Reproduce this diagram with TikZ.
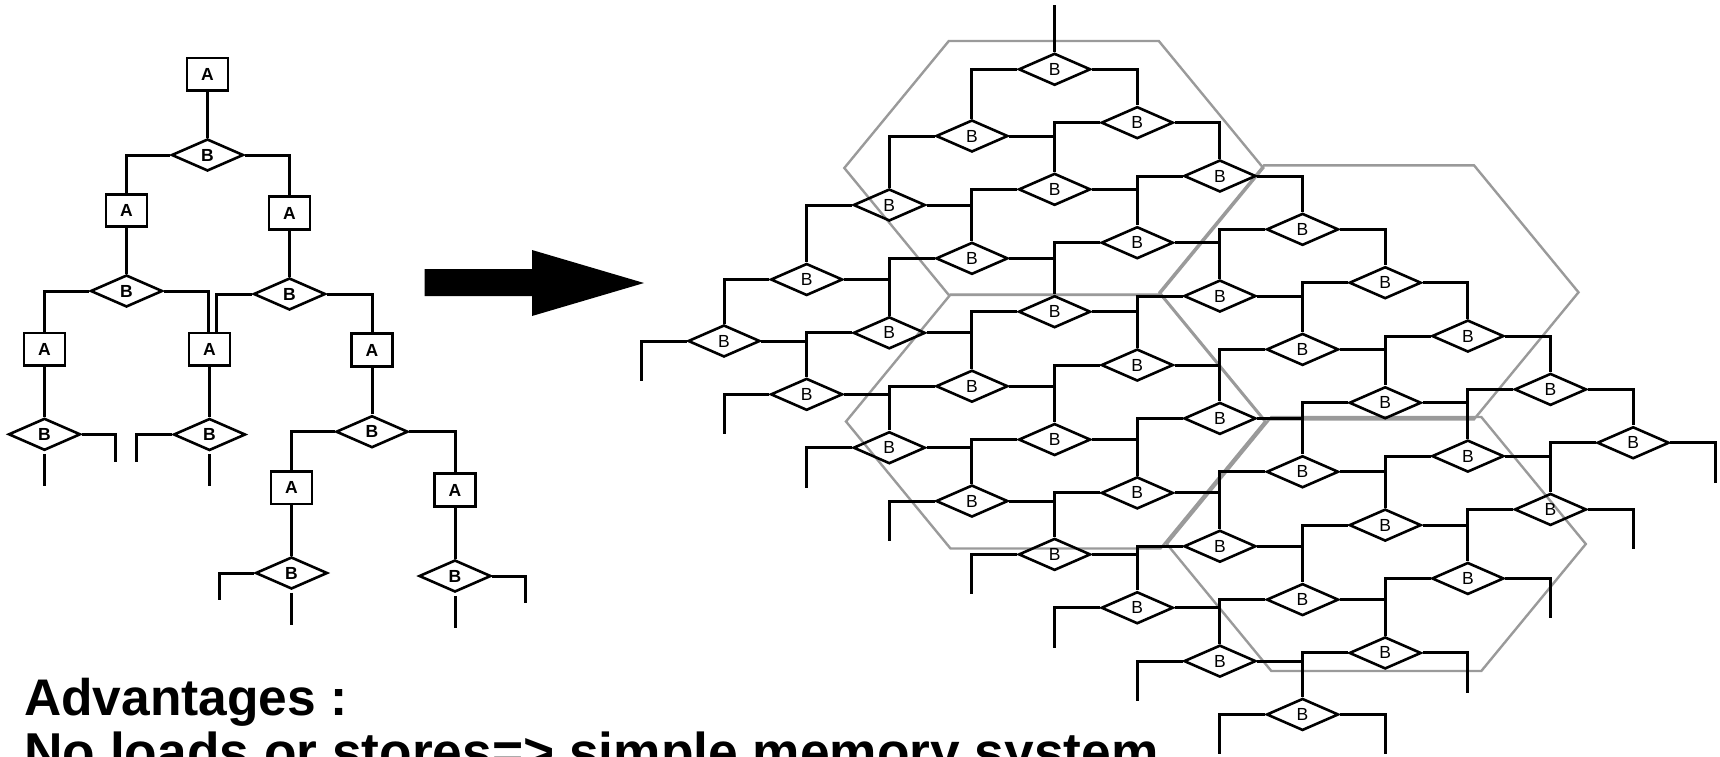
\documentclass[tikz,border=0pt]{standalone}
\usepackage{fontspec}
\setmainfont{Liberation Sans}
\usetikzlibrary{shapes.geometric,calc}
\definecolor{hexgray}{HTML}{9A9A9A}
\begin{document}
\begin{tikzpicture}[x=1pt,y=-1pt,
  conn/.style={line width=3pt,line join=miter},
  ldia/.style={diamond,draw,line width=2.6pt,minimum width=72pt,minimum height=32pt,inner sep=0pt,font=\fontsize{17.5}{17.5}\selectfont},
  tdia/.style={ldia,font=\bfseries\fontsize{17.5}{17.5}\selectfont},
  abox/.style={draw,line width=2.6pt,minimum width=41pt,minimum height=32.5pt,inner sep=0pt,font=\bfseries\fontsize{17.5}{17.5}\selectfont},
  hex/.style={draw=hexgray,line width=2.4pt,line join=miter},
  bigtext/.style={anchor=base west,inner sep=0pt}]
\useasboundingbox (0,0) rectangle (1720,756);
% ---------- hexagons ----------
\foreach \cx/\cy in {1053.8/168, 1369/292.3, 1055.5/421.5, 1376.3/544}{
  \draw[hex] ({\cx-105},{\cy-127}) -- ({\cx+105},{\cy-127}) -- ({\cx+209.5},\cy)
     -- ({\cx+105},{\cy+127}) -- ({\cx-105},{\cy+127}) -- ({\cx-209.5},\cy) -- cycle;
}
% ---------- lattice ----------
\foreach \a/\Ya in {0/69.3,1/136,2/205,3/279.5,4/341}{
  \foreach \b in {0,...,7}{
    \node[ldia] (d-\a-\b) at ({1054.6+82.65*(\b-\a)},{\Ya+53.35*\b}) {B};
  }
}
\coordinate (topend) at (1054.6,5);
\draw[conn] (topend) -- (d-0-0.north);
\foreach \a in {0,...,3}{\foreach \b in {0,...,7}{
  \pgfmathtruncatemacro\an{\a+1}
  \draw[conn] (d-\a-\b.west) -| (d-\an-\b.north);
}}
\foreach \a in {0,...,4}{\foreach \b in {0,...,6}{
  \pgfmathtruncatemacro\bn{\b+1}
  \draw[conn] (d-\a-\b.east) -| (d-\a-\bn.north);
}}
\foreach \b in {0,...,7}{
  \draw[conn] (d-4-\b.west) -- ($(d-4-\b.center)+(-82.65,0)$) -- ++(0,40);
}
\foreach \a in {0,...,4}{
  \draw[conn] (d-\a-7.east) -- ($(d-\a-7.center)+(82.65,0)$) -- ++(0,40);
}
% ---------- tree ----------
\node[abox] (A1) at (207.5,74.2) {A};
\node[tdia] (B1) at (207.5,155) {B};
\node[abox] (A2) at (126.5,210.5) {A};
\node[abox] (A3) at (289.5,213) {A};
\node[tdia] (B2) at (126.5,291) {B};
\node[tdia] (B3) at (289.5,294) {B};
\node[abox] (A4) at (44.5,349.2) {A};
\node[abox] (A5) at (209.5,349.2) {A};
\node[abox] (A6) at (372,350) {A};
\node[tdia] (B4) at (44.5,434.3) {B};
\node[tdia] (B5) at (209.5,434.5) {B};
\node[tdia] (B6) at (372,431.7) {B};
\node[abox] (A7) at (291.5,487.8) {A};
\node[abox] (A8) at (455,490) {A};
\node[tdia] (B7) at (291.5,573) {B};
\node[tdia] (B8) at (455,576) {B};
\draw[conn] (A1) -- (B1);
\draw[conn] (B1.west) -| (A2.north);
\draw[conn] (B1.east) -| (A3.north);
\draw[conn] (A2) -- (B2);
\draw[conn] (A3) -- (B3);
\draw[conn] (B2.west) -| (A4.north);
\coordinate (A5l) at ($(A5.north)+(-1.5,0)$);
\coordinate (A5r) at ($(A5.north)+(7,0)$);
\draw[conn] (B2.east) -| (A5l);
\draw[conn] (B3.west) -| (A5r);
\draw[conn] (B3.east) -| (A6.north);
\draw[conn] (A4) -- (B4);
\draw[conn] (A5) -- (B5);
\draw[conn] (A6) -- (B6);
\draw[conn] (B6.west) -| (A7.north);
\draw[conn] (B6.east) -| (A8.north);
\draw[conn] (A7) -- (B7);
\draw[conn] (A8) -- (B8);
\draw[conn] (B4.east) -- ($(B4.center)+(71,0)$) -- ++(0,27.5);
\draw[conn] (B5.west) -- ($(B5.center)+(-73,0)$) -- ++(0,27.5);
\draw[conn] (B7.west) -- ($(B7.center)+(-72.5,0)$) -- ++(0,27);
\draw[conn] (B8.east) -- ($(B8.center)+(70,0)$) -- ++(0,27);
\foreach \n in {B4,B5,B7,B8}{
  \draw[conn] ($(\n.south)+(0,2.5)$) -- ++(0,32);
}
% ---------- arrow ----------
\fill (424.5,269) -- (532,269) -- (532,250) -- (644,283) -- (532,316) -- (532,296) -- (424.5,296) -- cycle;
% ---------- text ----------
\node[bigtext,font=\bfseries\fontsize{51.5}{51.5}\selectfont] (adv) at (24,715) {Advantages :};
\node[bigtext,font=\bfseries\fontsize{53.3}{53.3}\selectfont] (noload) at (24,770) {No loads or stores=> simple memory system};
\end{tikzpicture}
\end{document}
